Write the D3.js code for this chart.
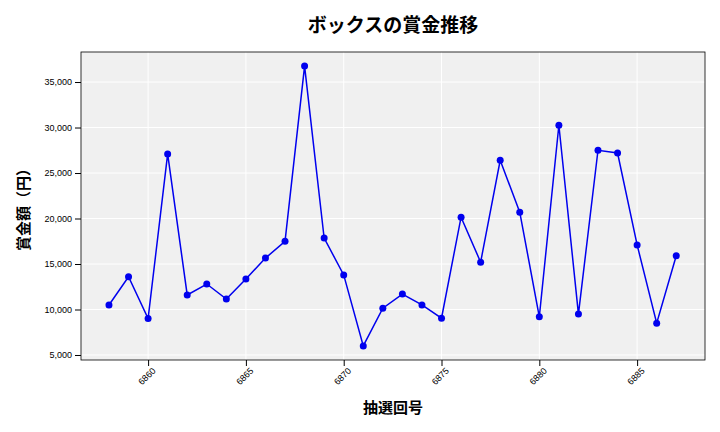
<!DOCTYPE html>
<html><head><meta charset="utf-8">
<script src="https://cdn.jsdelivr.net/npm/d3@7"></script>
<style>body{margin:0;background:#fff}svg{font-family:"Noto Sans CJK JP","Noto Sans",sans-serif}</style>
</head><body><svg id="c" width="720" height="432"></svg>
<script>
const draws=[6858,6859,6860,6861,6862,6863,6864,6865,6866,6867,6868,6869,6870,6871,6872,6873,6874,6875,6876,6877,6878,6879,6880,6881,6882,6883,6884,6885,6886,6887];
const prizes=[10500,13600,9000,27100,11600,12800,11150,13350,15650,17500,36750,17850,13800,6000,10150,11700,10500,9050,20150,15200,26400,20700,9200,30250,9500,27500,27200,17100,8500,15900];
const yTicks=[5000,10000,15000,20000,25000,30000,35000];
const xTicks=[6860,6865,6870,6875,6880,6885];
const svg=d3.select("#c");
const L=81,R=705,T=52,B=360;
const x=d3.scaleLinear().domain([6856.57,6888.47]).range([L,R]);
const y=d3.scaleLinear().domain([4450,38300]).range([B,T]);
svg.append("rect").attr("x",L).attr("y",T).attr("width",R-L).attr("height",B-T).attr("fill","#f0f0f0");
const g=svg.append("g");
xTicks.forEach(t=>g.append("line").attr("x1",x(t)).attr("x2",x(t)).attr("y1",T).attr("y2",B).attr("stroke","#fff").attr("stroke-width",1));
yTicks.forEach(t=>g.append("line").attr("x1",L).attr("x2",R).attr("y1",y(t)).attr("y2",y(t)).attr("stroke","#fff").attr("stroke-width",1));
svg.append("rect").attr("x",L).attr("y",T).attr("width",R-L).attr("height",B-T).attr("fill","none").attr("stroke","#000").attr("stroke-width",0.8);
const xa=svg.append("g").attr("transform",`translate(0,${B})`).call(d3.axisBottom(x).tickValues(xTicks).tickFormat(d3.format("d")).tickSizeOuter(0));
xa.select(".domain").remove();
xa.selectAll("text").attr("transform","rotate(-45)").attr("text-anchor","end").attr("dx","-0.3em").attr("dy","0.5em").style("font-size","9px");
const ya=svg.append("g").attr("transform",`translate(${L},0)`).call(d3.axisLeft(y).tickValues(yTicks).tickFormat(d3.format(",")).tickSizeOuter(0));
ya.select(".domain").remove();
ya.selectAll("text").style("font-size","9px");
const line=d3.line().x((d,i)=>x(draws[i])).y(d=>y(d));
svg.append("path").datum(prizes).attr("d",line).attr("fill","none").attr("stroke","#0000ee").attr("stroke-width",1.5);
svg.selectAll("circle.p").data(prizes).enter().append("circle").attr("cx",(d,i)=>x(draws[i])).attr("cy",d=>y(d)).attr("r",3.5).attr("fill","#0000ee");
svg.append("text").attr("x",393).attr("y",32).attr("text-anchor","middle").style("font-size","19px").style("font-weight","bold").text("ボックスの賞金推移");
svg.append("text").attr("x",393).attr("y",413).attr("text-anchor","middle").style("font-size","15px").style("font-weight","bold").text("抽選回号");
svg.append("text").attr("transform","translate(29,206) rotate(-90)").attr("text-anchor","middle").style("font-size","15px").style("font-weight","bold").text("賞金額（円）");
</script></body></html>
